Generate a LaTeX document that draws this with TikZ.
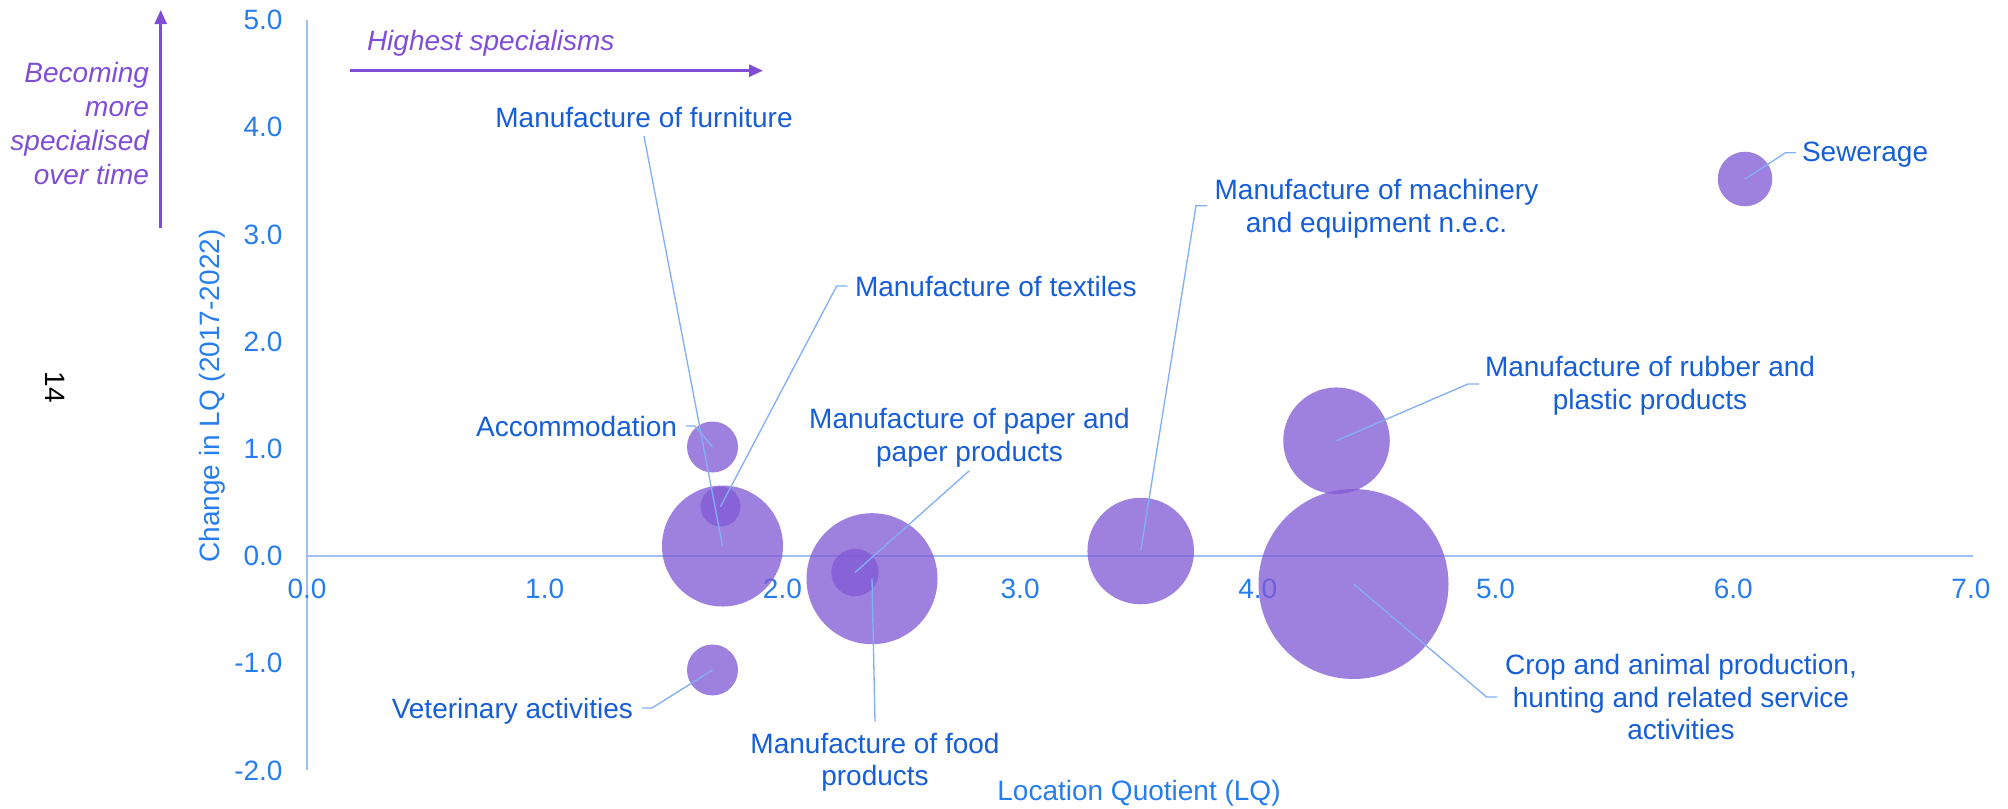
\documentclass[tikz,border=0pt]{standalone}
\usepackage{fontspec}
\setmainfont{Liberation Sans}
\usetikzlibrary{arrows.meta}
\definecolor{axtxt}{RGB}{38,125,238}
\definecolor{lbltxt}{RGB}{22,94,214}
\definecolor{leadc}{RGB}{130,175,245}
\definecolor{axline}{RGB}{160,192,245}
\definecolor{bubc}{RGB}{128,89,212}
\definecolor{purp}{RGB}{128,78,214}
\begin{document}
\begin{tikzpicture}[x=0.75pt,y=-0.75pt,
  every node/.style={inner sep=0pt, outer sep=0pt, font=\fontsize{21}{24.3}\selectfont},
  bubble/.style={circle, fill=bubc, fill opacity=0.76, draw=none, minimum size=#1, inner sep=0pt},
  lbl/.style={text=lbltxt, align=center},
  axlbl/.style={text=axtxt},
  leader/.style={draw=leadc, line width=1pt},
  axisline/.style={draw=axline, line width=1.2pt},
  annot/.style={text=purp, font=\fontsize{21}{25.5}\selectfont\itshape},
  annarrow/.style={draw=purp, line width=2pt, -{Triangle[length=10.5pt,width=9pt]}}
]
\useasboundingbox (0,0) rectangle (2008,808);

% axes
\coordinate (ytop) at (307,20);
\coordinate (ybot) at (307,770);
\coordinate (xleft) at (307,556);
\coordinate (xright) at (1973,556);
\draw[axisline] (ytop) -- (ybot);
\draw[axisline] (xleft) -- (xright);

% tick labels
\foreach \v/\t in {0/0.0,1/1.0,2/2.0,3/3.0,4/4.0,5/5.0,6/6.0,7/7.0}
  \node[axlbl] (xt\v) at ({307+237.7*\v},589) {\t};
\foreach \v/\t/\n in {5/5.0/a,4/4.0/b,3/3.0/c,2/2.0/d,1/1.0/e,0/0.0/f,-1/-1.0/g,-2/-2.0/h}
  \node[axlbl,anchor=east] (yt\n) at (282.5,{556-107.2*\v}) {\t};

% axis titles
\node[axlbl,anchor=base] (xtitle) at (1139,800) {Location Quotient (LQ)};
\node[axlbl,anchor=base,rotate=90] (ytitle) at (219,396) {Change in LQ (2017-2022)};

% page number
\node[rotate=-90,font=\fontsize{21}{24}\selectfont] (pgnum) at (55,387) {14};

% annotations
\coordinate (va0) at (160.7,228);
\coordinate (va1) at (160.7,10);
\draw[annarrow] (va0) -- (va1);
\node[annot,align=right,anchor=north east] (becoming) at (149,62.5) {Becoming\\more\\specialised\\over time};
\coordinate (ha0) at (350,70.7);
\coordinate (ha1) at (763,70.7);
\draw[annarrow] (ha0) -- (ha1);
\node[annot,anchor=base west] (highest) at (367,50.5) {Highest specialisms};

% bubbles
\node[bubble=38.25pt] (accom) at (712.5,447) {};
\node[bubble=30pt] (textiles) at (720.5,506.5) {};
\node[bubble=90.75pt] (furniture) at (722.5,546) {};
\node[bubble=38.25pt] (vet) at (712.5,670) {};
\node[bubble=98.25pt] (food) at (872,578.7) {};
\node[bubble=35.6pt] (paper) at (855,572.5) {};
\node[bubble=79.9pt] (machinery) at (1140.7,551) {};
\node[bubble=79.9pt] (rubber) at (1336.5,440.7) {};
\node[bubble=142.5pt] (crop) at (1353.5,584) {};
\node[bubble=40.9pt] (sewerage) at (1745,179) {};

% labels
\node[lbl,anchor=base] (Lfurniture) at (644,127) {Manufacture of furniture};
\node[lbl,anchor=base east] (Laccom) at (677,436.5) {Accommodation};
\node[lbl,anchor=base east] (Lvet) at (633,718) {Veterinary activities};
\node[lbl,anchor=base west] (Ltextiles) at (855,296.7) {Manufacture of textiles};
\node[lbl,anchor=north] (Lpaper) at (969.5,408.5) {Manufacture of paper and\\paper products};
\node[lbl,anchor=north] (Lfood) at (875,733) {Manufacture of food\\products};
\node[lbl,anchor=north] (Lmachinery) at (1376.5,179.5) {Manufacture of machinery\\and equipment n.e.c.};
\node[lbl,anchor=north] (Lrubber) at (1650,356.5) {Manufacture of rubber and\\plastic products};
\node[lbl,anchor=north] (Lcrop) at (1681,654.5) {Crop and animal production,\\hunting and related service\\activities};
\node[lbl,anchor=base west] (Lsewerage) at (1802,161.7) {Sewerage};

% leader lines
\coordinate (cfurn) at (644,136);
\draw[leader] (cfurn) -- (furniture.center);
\coordinate (caccA) at (686,426); \coordinate (caccB) at (695,426);
\draw[leader] (caccA) -- (caccB) -- (accom.center);
\coordinate (cvetA) at (642,708); \coordinate (cvetB) at (652,708);
\draw[leader] (cvetA) -- (cvetB) -- (vet.center);
\coordinate (ctexA) at (847.3,286); \coordinate (ctexB) at (836.7,286);
\draw[leader] (ctexA) -- (ctexB) -- (textiles.center);
\coordinate (cpap) at (969.3,470.7);
\draw[leader] (cpap) -- (paper.center);
\coordinate (cfood) at (875,721.7);
\draw[leader] (cfood) -- (food.center);
\coordinate (cmacA) at (1207,205.7); \coordinate (cmacB) at (1196,205.7);
\draw[leader] (cmacA) -- (cmacB) -- (machinery.center);
\coordinate (crubA) at (1479,384); \coordinate (crubB) at (1468,384);
\draw[leader] (crubA) -- (crubB) -- (rubber.center);
\coordinate (ccropA) at (1497,697); \coordinate (ccropB) at (1486.6,697);
\draw[leader] (ccropA) -- (ccropB) -- (crop.center);
\coordinate (csewA) at (1796,152.7); \coordinate (csewB) at (1785.6,152.7);
\draw[leader] (csewA) -- (csewB) -- (sewerage.center);
\end{tikzpicture}
\end{document}
